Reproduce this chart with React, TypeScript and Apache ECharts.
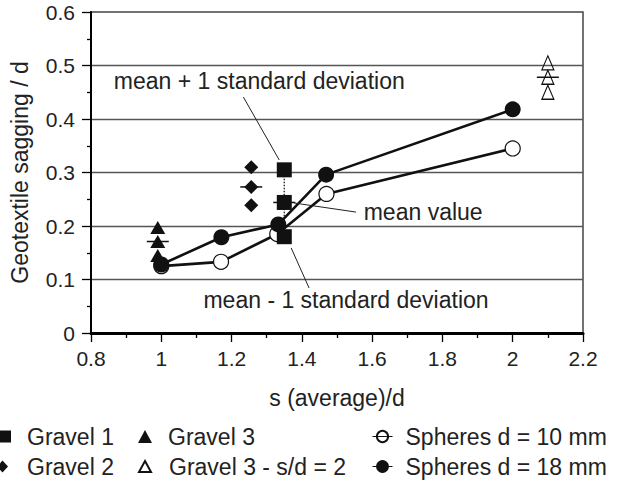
import React, { useEffect, useRef } from "react";
import * as echarts from "echarts";

const FONT = '"Liberation Sans", Arial, Helvetica, sans-serif';

// Axis ranges / ticks
const xMin = 0.8;
const xMax = 2.2;
const xStep = 0.2;
const yMin = 0;
const yMax = 0.6;
const yStep = 0.1;

// Gravel groups: x position and values (mean + 1 sd, mean, mean - 1 sd)
const gravel1X = 1.35;
const gravel1Y = [0.305, 0.244, 0.18];
const gravel2X = 1.256;
const gravel2Y = [0.31, 0.273, 0.239];
const gravel3X = 0.99;
const gravel3Y = [0.197, 0.171, 0.145];
const gravel3sdX = 2.1;
const gravel3sdY = [0.505, 0.478, 0.45];

// Spheres
const spheres10X = [1.0, 1.17, 1.33, 1.47, 2.0];
const spheres10Y = [0.125, 0.133, 0.185, 0.26, 0.345];
const spheres18X = [1.0, 1.171, 1.333, 1.469, 2.0];
const spheres18Y = [0.128, 0.179, 0.203, 0.296, 0.418];

// Annotations (data coordinates)
const annotationTexts = [
  "mean + 1 standard deviation",
  "mean value",
  "mean - 1 standard deviation",
];
const annotationTextAt = [
  [0.865, 0.471],
  [1.576, 0.226],
  [1.12, 0.062],
];
const leaderFrom = [
  [1.2336, 0.441],
  [1.554, 0.226],
  [1.4206, 0.084],
];
const leaderTo = [
  [1.3356, 0.3234],
  [1.378, 0.243],
  [1.3696, 0.159],
];

const pair = (x: number, ys: number[]) => ys.map((y) => [x, y]);
const zip = (xs: number[], ys: number[]) => xs.map((x, i) => [x, ys[i]]);

export default function App() {
  const ref = useRef<HTMLDivElement>(null);

  useEffect(() => {
    const chart = echarts.init(ref.current!, undefined, { renderer: "svg" });
    const ink = "#111";
    const textColor = "#222";
    const legendCommon = {
      selectedMode: false,
      padding: 0,
      orient: "horizontal",
    };
    const lt = (pad: number) => ({
      fontSize: 23,
      color: textColor,
      fontFamily: FONT,
      padding: [0, 0, 0, pad],
    });
    const solid = (c: string) => ({ color: c, opacity: 1 });

    const option: any = {
      animation: false,
      backgroundColor: "#fff",
      textStyle: { fontFamily: FONT },
      grid: {
        left: 89,
        right: 34,
        top: 12,
        bottom: 152,
        show: true,
        borderColor: "#444",
        borderWidth: 1.5,
        backgroundColor: "transparent",
      },
      xAxis: {
        type: "value",
        z: 5,
        min: xMin,
        max: xMax,
        interval: xStep,
        name: "s (average)/d",
        nameLocation: "middle",
        nameGap: 53,
        nameTextStyle: { fontSize: 23, color: textColor, fontFamily: FONT },
        axisLine: { show: true, onZero: false, lineStyle: { color: "#000", width: 3, opacity: 1 } },
        axisTick: { show: true, inside: false, length: 9, lineStyle: { color: "#000", width: 1.3, opacity: 1 } },
        minorTick: { show: true, splitNumber: 2, length: 5, lineStyle: { color: "#000", width: 1.3, opacity: 1 } },
        axisLabel: { fontSize: 21, color: textColor, margin: 15, fontFamily: FONT },
        splitLine: { show: false },
        minorSplitLine: { show: false },
      },
      yAxis: {
        type: "value",
        z: 1,
        min: yMin,
        max: yMax,
        interval: yStep,
        name: "Geotextile sagging / d",
        nameLocation: "middle",
        nameGap: 60,
        nameTextStyle: { fontSize: 23, color: textColor, fontFamily: FONT },
        axisLine: { show: true, onZero: false, lineStyle: { color: "#000", width: 2, opacity: 1 } },
        axisTick: { show: true, inside: false, length: 9, lineStyle: { color: "#000", width: 1.3, opacity: 1 } },
        minorTick: { show: true, splitNumber: 2, length: 4, lineStyle: { color: "#000", width: 1.3, opacity: 1 } },
        axisLabel: { fontSize: 21, color: textColor, margin: 16, fontFamily: FONT },
        splitLine: {
          show: true,
          showMinLine: false,
          showMaxLine: false,
          lineStyle: { color: "#555", width: 1.3 },
        },
      },
      legend: [
        {
          ...legendCommon,
          left: -1,
          top: 425,
          itemWidth: 12,
          itemHeight: 12,
          data: [{ name: "Gravel 1", icon: "rect" }],
          textStyle: lt(11),
        },
        {
          ...legendCommon,
          left: -3,
          top: 455,
          itemWidth: 11,
          itemHeight: 12,
          symbolKeepAspect: false,
          data: [{ name: "Gravel 2", icon: "diamond" }],
          textStyle: lt(14),
        },
        {
          ...legendCommon,
          left: 138,
          top: 425,
          itemWidth: 14,
          itemHeight: 13,
          symbolKeepAspect: false,
          data: [{ name: "Gravel 3", icon: "triangle" }],
          textStyle: lt(11),
        },
        {
          ...legendCommon,
          left: 138,
          top: 455,
          itemWidth: 12,
          itemHeight: 11,
          data: [{ name: "Gravel 3 - s/d = 2", icon: "triangle" }],
          textStyle: lt(13),
        },
        {
          ...legendCommon,
          left: 372,
          top: 425,
          itemWidth: 20,
          itemHeight: 14,
          lineStyle: { width: 1 },
          data: [{ name: "Spheres d = 10 mm", itemStyle: { color: "rgba(0,0,0,0)" } }],
          textStyle: lt(8),
        },
        {
          ...legendCommon,
          left: 372,
          top: 455,
          itemWidth: 20,
          itemHeight: 16,
          lineStyle: { width: 1 },
          data: [{ name: "Spheres d = 18 mm" }],
          textStyle: lt(8),
        },
      ],
      series: [
        {
          name: "Spheres d = 10 mm",
          type: "line",
          data: zip(spheres10X, spheres10Y),
          symbol: "circle",
          symbolSize: 15,
          showAllSymbol: true,
          lineStyle: { color: ink, width: 2.6 },
          itemStyle: { color: "#fff", borderColor: ink, borderWidth: 1.2, opacity: 1 },
          z: 2,
        },
        {
          name: "gravel1-range",
          type: "line",
          data: pair(gravel1X, [gravel1Y[0], gravel1Y[2]]),
          symbol: "none",
          lineStyle: { type: "dotted", width: 1.5, color: "#333" },
          z: 2,
        },
        {
          name: "mean-ticks",
          type: "scatter",
          data: [
            [gravel1X, gravel1Y[1]],
            [gravel2X, gravel2Y[1]],
            [gravel3X, gravel3Y[1]],
            [gravel3sdX, gravel3sdY[1]],
          ],
          symbol: "rect",
          symbolSize: [22, 1.5],
          itemStyle: solid(ink),
          z: 2,
        },
        {
          name: "Gravel 1",
          type: "scatter",
          symbol: "rect",
          symbolSize: 15,
          data: pair(gravel1X, gravel1Y),
          itemStyle: solid(ink),
          z: 3,
        },
        {
          name: "Gravel 2",
          type: "scatter",
          symbol: "diamond",
          symbolSize: 14,
          data: pair(gravel2X, gravel2Y),
          itemStyle: solid(ink),
          z: 3,
        },
        {
          name: "Gravel 3",
          type: "scatter",
          symbol: "triangle",
          symbolSize: [15, 13],
          data: pair(gravel3X, gravel3Y),
          itemStyle: solid(ink),
          z: 3,
        },
        {
          name: "Gravel 3 - s/d = 2",
          type: "scatter",
          symbol: "triangle",
          symbolSize: [12, 14],
          data: pair(gravel3sdX, gravel3sdY),
          itemStyle: { color: "rgba(0,0,0,0)", borderColor: ink, borderWidth: 1.2, opacity: 1 },
          z: 3,
        },
        {
          name: "Spheres d = 18 mm",
          type: "line",
          data: zip(spheres18X, spheres18Y),
          symbol: "circle",
          symbolSize: 16,
          showAllSymbol: true,
          lineStyle: { color: ink, width: 2.6 },
          itemStyle: solid(ink),
          z: 4,
        },
      ],
    };

    chart.setOption(option);

    const px = (p: number[]) => chart.convertToPixel({ gridIndex: 0 }, p) as number[];
    const graphic: any[] = [];
    annotationTexts.forEach((t, i) => {
      const a = px(annotationTextAt[i]);
      graphic.push({
        type: "text",
        x: a[0],
        y: a[1],
        z: 10,
        style: {
          text: t,
          fontSize: 23,
          fontFamily: FONT,
          fill: textColor,
          align: "left",
          verticalAlign: "middle",
        },
      });
      const f = px(leaderFrom[i]);
      const to = px(leaderTo[i]);
      graphic.push({
        type: "line",
        z: 10,
        shape: { x1: f[0], y1: f[1], x2: to[0], y2: to[1] },
        style: { stroke: "#222", lineWidth: 1 },
      });
    });
    chart.setOption({ graphic });

    return () => {
      chart.dispose();
    };
  }, []);

  return (
    <div
      ref={ref}
      style={{ position: "fixed", left: 0, top: 0, width: 617, height: 485 }}
    />
  );
}
